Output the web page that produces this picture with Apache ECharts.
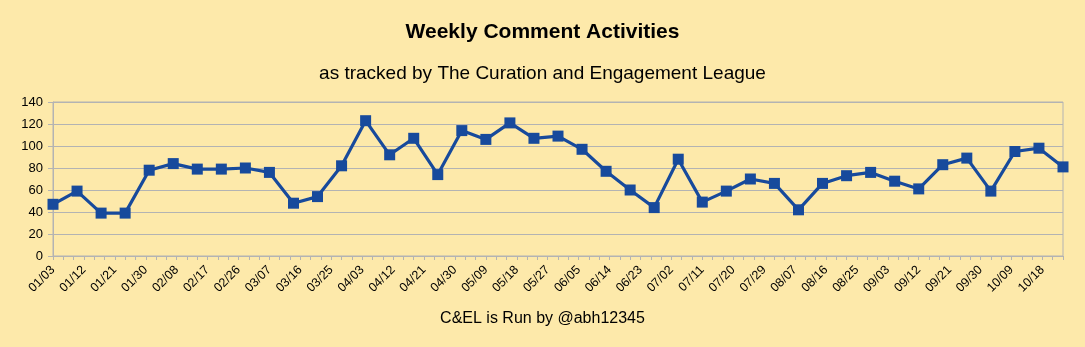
<!DOCTYPE html>
<html>
<head>
<meta charset="utf-8">
<script src="https://cdn.jsdelivr.net/npm/echarts@6/dist/echarts.min.js"></script>
<style>
html,body{margin:0;padding:0;background:#fde9aa;}
#chart{width:1085px;height:347px;}
</style>
</head>
<body>
<div id="chart"></div>
<script>
const weekDates = ['2021-01-03','2021-01-10','2021-01-17','2021-01-24','2021-01-31','2021-02-07','2021-02-14','2021-02-21','2021-02-28','2021-03-07','2021-03-14','2021-03-21','2021-03-28','2021-04-04','2021-04-11','2021-04-18','2021-04-25','2021-05-02','2021-05-09','2021-05-16','2021-05-23','2021-05-30','2021-06-06','2021-06-13','2021-06-20','2021-06-27','2021-07-04','2021-07-11','2021-07-18','2021-07-25','2021-08-01','2021-08-08','2021-08-15','2021-08-22','2021-08-29','2021-09-05','2021-09-12','2021-09-19','2021-09-26','2021-10-03','2021-10-10','2021-10-17','2021-10-24'];
const comments = [47,59,39,39,78,84,79,79,80,76,48,54,82,123,92,107,74,114,106,121,107,109,97,77,60,44,88,49,59,70,66,42,66,73,76,68,61,83,89,59,95,98,81];
const xTickLabels = ['01/03','01/12','01/21','01/30','02/08','02/17','02/26','03/07','03/16','03/25','04/03','04/12','04/21','04/30','05/09','05/18','05/27','06/05','06/14','06/23','07/02','07/11','07/20','07/29','08/07','08/16','08/25','09/03','09/12','09/21','09/30','10/09','10/18'];
const yTicks = [0,20,40,60,80,100,120,140];

const startMs = Date.UTC(2021,0,3);
function dayOffset(s){const p=s.split('-');return Math.round((Date.UTC(+p[0],+p[1]-1,+p[2])-startMs)/86400000);}
const points = weekDates.map((d,i)=>[dayOffset(d), comments[i]]);
const lastDay = dayOffset(weekDates[weekDates.length-1]);

const FONT = '"Liberation Sans", Arial, sans-serif';
const chart = echarts.init(document.getElementById('chart'), null, {renderer:'canvas'});
chart.setOption({
  backgroundColor:'#fde9aa',
  animation:false,
  title:[
    {text:'Weekly Comment Activities', left:'center', top:17, textStyle:{fontFamily:FONT, fontSize:21, fontWeight:'bold', color:'#000'}},
    {text:'as tracked by The Curation and Engagement League', left:'center', top:59, textStyle:{fontFamily:FONT, fontSize:19, fontWeight:'normal', color:'#000'}},
    {text:'C&EL is Run by @abh12345', left:'center', top:306, textStyle:{fontFamily:FONT, fontSize:16, fontWeight:'normal', color:'#000'}}
  ],
  grid:{left:53, right:22, top:102, bottom:91, show:true, borderColor:'#b3b3b3', borderWidth:1, backgroundColor:'transparent'},
  xAxis:{
    type:'value', min:0, max:lastDay, interval:3,
    axisLine:{show:true, lineStyle:{color:'#b3b3b3'}},
    axisTick:{show:true, length:4, lineStyle:{color:'#b3b3b3'}},
    splitLine:{show:false},
    axisLabel:{rotate:45, margin:12, fontFamily:FONT, fontSize:12.5, color:'#000',
      formatter:function(v){ if(v%9!==0) return ''; const i=v/9; return xTickLabels[i]||''; }}
  },
  yAxis:{
    type:'value', min:yTicks[0], max:yTicks[yTicks.length-1], interval:20,
    axisLine:{show:true, lineStyle:{color:'#b3b3b3'}},
    axisTick:{show:true, length:5, lineStyle:{color:'#b3b3b3'}},
    splitLine:{show:true, lineStyle:{color:'#b3b3b3', width:1}},
    axisLabel:{margin:10, fontFamily:FONT, fontSize:13, color:'#000'}
  },
  series:[{
    type:'line', data:points, symbol:'rect', symbolSize:11, showAllSymbol:true,
    lineStyle:{color:'#174a9c', width:3.2},
    itemStyle:{color:'#174a9c'}
  }]
});
</script>
</body>
</html>
